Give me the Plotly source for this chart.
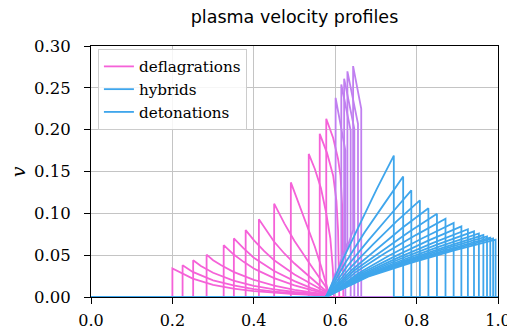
import plotly.graph_objects as go

# ---------------- data ----------------
# deflagrations: xi and v along each profile
defl_x = [
    [0, 0.200, 0.200, 0.25, 0.30, 0.35, 0.40, 0.45, 0.50, 0.54, 0.58, 0.58, 1.0],
    [0, 0.225, 0.225, 0.25, 0.30, 0.35, 0.40, 0.45, 0.50, 0.54, 0.58, 0.58, 1.0],
    [0, 0.251, 0.251, 0.27, 0.30, 0.35, 0.40, 0.45, 0.50, 0.54, 0.58, 0.58, 1.0],
    [0, 0.284, 0.284, 0.30, 0.32, 0.35, 0.40, 0.45, 0.50, 0.54, 0.58, 0.58, 1.0],
    [0, 0.326, 0.326, 0.35, 0.375, 0.40, 0.45, 0.50, 0.54, 0.58, 0.58, 1.0],
    [0, 0.351, 0.351, 0.375, 0.40, 0.45, 0.50, 0.54, 0.58, 0.58, 1.0],
    [0, 0.380, 0.380, 0.40, 0.425, 0.45, 0.50, 0.54, 0.58, 0.58, 1.0],
    [0, 0.4125, 0.4125, 0.43, 0.45, 0.475, 0.50, 0.54, 0.58, 0.58, 1.0],
    [0, 0.450, 0.450, 0.475, 0.50, 0.52, 0.54, 0.56, 0.58, 0.58, 1.0],
    [0, 0.491, 0.491, 0.51, 0.53, 0.55, 0.565, 0.58, 0.585, 1.0],
    [0, 0.535, 0.535, 0.55, 0.565, 0.578, 0.588, 0.594, 0.597, 1.0],
    [0, 0.562, 0.562, 0.58, 0.595, 0.603, 0.607, 0.609, 0.610, 1.0],
    [0, 0.578, 0.578, 0.595, 0.607, 0.613, 0.617, 0.619, 0.620, 1.0],
]
defl_v = [
    [0, 0, 0.034, 0.022, 0.0145, 0.010, 0.007, 0.005, 0.0035, 0.0025, 0.0015, 0, 0],
    [0, 0, 0.038, 0.030, 0.020, 0.0138, 0.0095, 0.0065, 0.0045, 0.003, 0.0018, 0, 0],
    [0, 0, 0.044, 0.037, 0.029, 0.0195, 0.0133, 0.009, 0.006, 0.0042, 0.0025, 0, 0],
    [0, 0, 0.0506, 0.044, 0.038, 0.030, 0.0205, 0.0135, 0.0085, 0.0055, 0.003, 0, 0],
    [0, 0, 0.062, 0.051, 0.042, 0.034, 0.0225, 0.014, 0.0085, 0.0035, 0, 0],
    [0, 0, 0.070, 0.058, 0.047, 0.031, 0.019, 0.011, 0.004, 0, 0],
    [0, 0, 0.080, 0.068, 0.055, 0.044, 0.027, 0.016, 0.005, 0, 0],
    [0, 0, 0.093, 0.080, 0.066, 0.052, 0.040, 0.023, 0.006, 0, 0],
    [0, 0, 0.1115, 0.088, 0.067, 0.052, 0.038, 0.024, 0.010, 0, 0],
    [0, 0, 0.137, 0.113, 0.087, 0.060, 0.037, 0.012, 0, 0],
    [0, 0, 0.171, 0.153, 0.130, 0.100, 0.070, 0.035, 0, 0],
    [0, 0, 0.195, 0.172, 0.145, 0.115, 0.080, 0.040, 0, 0],
    [0, 0, 0.213, 0.190, 0.165, 0.145, 0.110, 0.060, 0, 0],
]

# hybrids
hyb_x = [
    [0, 0.577, 0.590, 0.601, 0.601, 0.612, 0.620, 0.625, 0.625, 1.0],
    [0, 0.577, 0.598, 0.615, 0.615, 0.627, 0.638, 0.638, 1.0],
    [0, 0.577, 0.600, 0.622, 0.622, 0.635, 0.647, 0.647, 1.0],
    [0, 0.577, 0.605, 0.630, 0.630, 0.643, 0.656, 0.656, 1.0],
    [0, 0.577, 0.610, 0.644, 0.644, 0.654, 0.664, 0.664, 1.0],
]
hyb_v = [
    [0, 0, 0.012, 0.030, 0.238, 0.210, 0.190, 0.175, 0, 0],
    [0, 0, 0.018, 0.045, 0.254, 0.226, 0.199, 0, 0],
    [0, 0, 0.020, 0.055, 0.261, 0.230, 0.201, 0, 0],
    [0, 0, 0.024, 0.065, 0.2697, 0.238, 0.207, 0, 0],
    [0, 0, 0.030, 0.080, 0.276, 0.250, 0.225, 0, 0],
]

# detonations
det_x = [
    [0, 0.577, 0.619, 0.661, 0.702, 0.744, 0.744, 1.0],
    [0, 0.577, 0.625, 0.672, 0.720, 0.767, 0.767, 1.0],
    [0, 0.577, 0.630, 0.682, 0.735, 0.787, 0.787, 1.0],
    [0, 0.577, 0.635, 0.693, 0.750, 0.808, 0.808, 1.0],
    [0, 0.577, 0.640, 0.703, 0.766, 0.829, 0.829, 1.0],
    [0, 0.577, 0.645, 0.714, 0.782, 0.850, 0.850, 1.0],
    [0, 0.577, 0.651, 0.724, 0.798, 0.871, 0.871, 1.0],
    [0, 0.577, 0.656, 0.734, 0.813, 0.891, 0.891, 1.0],
    [0, 0.577, 0.660, 0.744, 0.827, 0.910, 0.910, 1.0],
    [0, 0.577, 0.664, 0.752, 0.839, 0.926, 0.926, 1.0],
    [0, 0.577, 0.668, 0.759, 0.850, 0.941, 0.941, 1.0],
    [0, 0.577, 0.671, 0.765, 0.859, 0.953, 0.953, 1.0],
    [0, 0.577, 0.674, 0.771, 0.867, 0.964, 0.964, 1.0],
    [0, 0.577, 0.676, 0.775, 0.874, 0.973, 0.973, 1.0],
    [0, 0.577, 0.678, 0.779, 0.880, 0.981, 0.981, 1.0],
    [0, 0.577, 0.680, 0.783, 0.885, 0.988, 0.988, 1.0],
    [0, 0.577, 0.681, 0.786, 0.890, 0.994, 0.994, 1.0],
]
det_v = [
    [0, 0, 0.045, 0.088, 0.129, 0.169, 0, 0],
    [0, 0, 0.041, 0.077, 0.111, 0.144, 0, 0],
    [0, 0, 0.037, 0.068, 0.098, 0.1275, 0, 0],
    [0, 0, 0.034, 0.063, 0.090, 0.1155, 0, 0],
    [0, 0, 0.032, 0.058, 0.083, 0.106, 0, 0],
    [0, 0, 0.031, 0.055, 0.078, 0.0996, 0, 0],
    [0, 0, 0.030, 0.053, 0.074, 0.0936, 0, 0],
    [0, 0, 0.028, 0.050, 0.070, 0.0884, 0, 0],
    [0, 0, 0.0275, 0.048, 0.067, 0.0845, 0, 0],
    [0, 0, 0.0267, 0.0465, 0.0643, 0.081, 0, 0],
    [0, 0, 0.0263, 0.0454, 0.0626, 0.0785, 0, 0],
    [0, 0, 0.0258, 0.0442, 0.0607, 0.076, 0, 0],
    [0, 0, 0.0255, 0.0434, 0.0593, 0.074, 0, 0],
    [0, 0, 0.0253, 0.0428, 0.0583, 0.0725, 0, 0],
    [0, 0, 0.0251, 0.0422, 0.0572, 0.071, 0, 0],
    [0, 0, 0.0248, 0.0417, 0.0564, 0.070, 0, 0],
    [0, 0, 0.0243, 0.0408, 0.0553, 0.0686, 0, 0],
]

legend_names = ["deflagrations", "hybrids", "detonations"]
x_tickvals = [0.0, 0.2, 0.4, 0.6, 0.8, 1.0]
x_ticktext = ["0.0", "0.2", "0.4", "0.6", "0.8", "1.0"]
y_tickvals = [0.00, 0.05, 0.10, 0.15, 0.20, 0.25, 0.30]
y_ticktext = ["0.00", "0.05", "0.10", "0.15", "0.20", "0.25", "0.30"]

# ---------------- styling ----------------
PINK = "#f562d8"
PURPLE = "#c07ff0"
BLUE = "#3fa6ec"
LW = 1.8
SERIF = "DejaVu Serif"

fig = go.Figure()


def add_group(xs_list, vs_list, color):
    for xs, vs in zip(xs_list, vs_list):
        fig.add_trace(go.Scatter(x=xs, y=vs, mode="lines",
                                 line=dict(color=color, width=LW),
                                 showlegend=False, hoverinfo="skip"))


add_group(defl_x, defl_v, PINK)
add_group(hyb_x, hyb_v, PURPLE)
add_group(det_x, det_v, BLUE)

for name, col in zip(legend_names, [PINK, BLUE, BLUE]):
    fig.add_trace(go.Scatter(x=[None], y=[None], mode="lines", name=name,
                             line=dict(color=col, width=LW)))

axis_common = dict(
    showline=True, linecolor="black", linewidth=1, mirror=True,
    ticks="outside", ticklen=6, tickwidth=1, tickcolor="black",
    showgrid=True, gridcolor="#c4c4c4", gridwidth=1,
    zeroline=False, automargin=False,
)

# the page body adds an 8 px offset, so margins are shifted by 8 px
fig.update_layout(
    width=515, height=331,
    margin=dict(l=83, r=25, t=38, b=42, autoexpand=False),
    paper_bgcolor="white", plot_bgcolor="white",
    title=dict(text="plasma velocity profiles",
               font=dict(family="DejaVu Sans", size=17.5, color="black"),
               x=0.5, xref="paper", xanchor="center",
               y=0.972, yref="container", yanchor="middle", automargin=False),
    legend=dict(x=0.017, y=0.988, xanchor="left", yanchor="top",
                bgcolor="rgba(255,255,255,0.85)", bordercolor="#cccccc",
                borderwidth=1, traceorder="normal",
                font=dict(family=SERIF, size=15.2, color="black")),
    showlegend=True,
    annotations=[dict(text="<i>v</i>", textangle=-90, showarrow=False,
                      xref="paper", yref="paper", x=-0.18, y=0.5,
                      xanchor="center", yanchor="middle",
                      font=dict(family=SERIF, size=19, color="black"))],
)
fig.update_xaxes(range=[0, 1], tickvals=x_tickvals, ticktext=x_ticktext,
                 ticklabelstandoff=3,
                 tickfont=dict(family=SERIF, size=16, color="black"),
                 **axis_common)
fig.update_yaxes(range=[0, 0.3], tickvals=y_tickvals, ticktext=y_ticktext,
                 ticklabelstandoff=10,
                 tickfont=dict(family=SERIF, size=16.5, color="black"),
                 **axis_common)

fig.write_html("out.html")
